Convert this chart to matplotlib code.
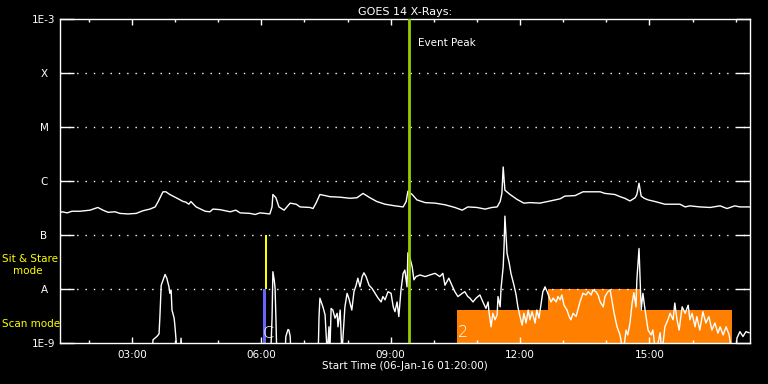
import numpy as np
import matplotlib
matplotlib.use("Agg")
import matplotlib.pyplot as plt

# GOES 14 X-ray flux, 06-Jan-2016, time in UT hours, flux as log10(W/m^2)
long_t = [1.33, 1.38, 1.50, 1.61, 1.80, 2.03, 2.21, 2.33, 2.45, 2.61, 2.72, 2.91,
          3.10, 3.26, 3.42, 3.54, 3.61, 3.72, 3.79, 3.88, 4.05, 4.19, 4.25, 4.32,
          4.37, 4.44, 4.49, 4.70, 4.81, 4.88, 5.04, 5.16, 5.28, 5.41, 5.51, 5.74,
          5.86, 5.97, 6.20, 6.25, 6.27, 6.34, 6.41, 6.53, 6.67, 6.81, 6.90, 7.13,
          7.20, 7.27, 7.36, 7.48, 7.59, 7.83, 8.06, 8.22, 8.36, 8.52, 8.68, 8.87,
          9.10, 9.29, 9.36, 9.40, 9.50, 9.61, 9.80, 10.03, 10.26, 10.49, 10.66,
          10.79, 11.00, 11.19, 11.35, 11.47, 11.54, 11.58, 11.61, 11.65, 11.77,
          11.93, 12.09, 12.23, 12.46, 12.70, 12.93, 13.04, 13.28, 13.46, 13.86,
          13.97, 14.20, 14.32, 14.43, 14.55, 14.67, 14.71, 14.76, 14.81, 14.88,
          14.97, 15.13, 15.36, 15.71, 15.83, 15.94, 16.17, 16.41, 16.64, 16.80,
          16.98, 17.10, 17.33]
long_log = [-6.59, -6.57, -6.59, -6.56, -6.56, -6.54, -6.49, -6.54, -6.58, -6.57,
            -6.60, -6.61, -6.60, -6.55, -6.52, -6.48, -6.38, -6.20, -6.20, -6.25,
            -6.32, -6.38, -6.39, -6.43, -6.38, -6.44, -6.48, -6.56, -6.57, -6.52,
            -6.53, -6.55, -6.57, -6.54, -6.59, -6.60, -6.62, -6.59, -6.61, -6.48,
            -6.25, -6.31, -6.48, -6.54, -6.41, -6.43, -6.48, -6.49, -6.51, -6.41,
            -6.25, -6.27, -6.29, -6.30, -6.32, -6.31, -6.23, -6.31, -6.38, -6.43,
            -6.46, -6.48, -6.38, -6.19, -6.25, -6.35, -6.40, -6.41, -6.44, -6.49,
            -6.54, -6.48, -6.49, -6.52, -6.49, -6.48, -6.38, -6.23, -5.74, -6.17,
            -6.25, -6.34, -6.41, -6.40, -6.41, -6.37, -6.33, -6.28, -6.27, -6.20,
            -6.20, -6.23, -6.25, -6.29, -6.32, -6.37, -6.31, -6.25, -6.04, -6.28,
            -6.32, -6.35, -6.38, -6.43, -6.43, -6.48, -6.46, -6.48, -6.49, -6.46,
            -6.51, -6.46, -6.48, -6.48]

# -9.2 marks values below the plotted range
short_t = [1.33, 3.47, 3.49, 3.58, 3.63, 3.65, 3.68, 3.75, 3.77, 3.81, 3.86, 3.88,
           3.91, 3.93, 3.98, 4.00, 4.02, 4.05, 4.12, 4.14, 4.16, 6.22, 6.25, 6.27,
           6.30, 6.32, 6.34, 6.36, 6.55, 6.57, 6.62, 6.64, 6.67, 6.69, 7.32, 7.34,
           7.36, 7.39, 7.43, 7.48, 7.53, 7.57, 7.59, 7.62, 7.66, 7.71, 7.76, 7.78,
           7.83, 7.87, 7.94, 7.99, 8.03, 8.10, 8.15, 8.20, 8.24, 8.29, 8.34, 8.38,
           8.43, 8.50, 8.57, 8.64, 8.71, 8.78, 8.82, 8.87, 8.94, 9.01, 9.06, 9.10,
           9.15, 9.19, 9.24, 9.29, 9.33, 9.38, 9.40, 9.45, 9.50, 9.54, 9.59, 9.68,
           9.80, 9.91, 10.03, 10.14, 10.21, 10.26, 10.35, 10.42, 10.49, 10.56,
           10.66, 10.72, 10.79, 10.84, 10.91, 10.98, 11.07, 11.14, 11.21, 11.26,
           11.28, 11.33, 11.37, 11.42, 11.47, 11.49, 11.54, 11.56, 11.61, 11.63,
           11.65, 11.70, 11.75, 11.79, 11.86, 11.91, 11.95, 12.00, 12.05, 12.09,
           12.14, 12.19, 12.23, 12.28, 12.35, 12.39, 12.44, 12.49, 12.53, 12.58,
           12.63, 12.67, 12.72, 12.77, 12.84, 12.88, 12.93, 12.97, 13.02, 13.09,
           13.14, 13.18, 13.23, 13.30, 13.35, 13.39, 13.46, 13.53, 13.58, 13.65,
           13.69, 13.76, 13.81, 13.86, 13.93, 13.97, 14.04, 14.09, 14.13, 14.18,
           14.25, 14.32, 14.39, 14.46, 14.50, 14.55, 14.60, 14.64, 14.69, 14.71,
           14.76, 14.78, 14.81, 14.85, 14.90, 14.97, 15.04, 15.08, 15.15, 15.25,
           15.29, 15.36, 15.43, 15.48, 15.55, 15.59, 15.64, 15.69, 15.76, 15.83,
           15.90, 15.94, 15.99, 16.06, 16.10, 16.17, 16.24, 16.31, 16.38, 16.45,
           16.52, 16.59, 16.64, 16.71, 16.78, 16.85, 16.92, 17.01, 17.03, 17.10,
           17.17, 17.24, 17.31]
short_log = [-9.2, -9.2, -8.94, -8.88, -8.83, -8.51, -7.93, -7.77, -7.73, -7.80,
             -7.96, -8.08, -8.02, -8.39, -8.54, -8.70, -8.91, -9.2, -9.2, -8.91,
             -9.2, -9.2, -8.54, -7.68, -7.83, -7.98, -8.54, -9.2, -9.2, -8.88,
             -8.75, -8.76, -8.87, -9.2, -9.2, -8.51, -8.17, -8.24, -8.33, -8.48,
             -9.2, -8.70, -9.2, -8.36, -8.39, -8.54, -8.45, -8.70, -8.39, -9.2,
             -8.33, -8.08, -8.17, -8.39, -8.05, -7.93, -7.80, -7.96, -7.77, -7.70,
             -7.77, -7.93, -7.99, -8.08, -8.17, -8.24, -8.14, -8.20, -8.05, -8.08,
             -8.33, -8.42, -8.24, -8.51, -8.02, -7.71, -7.65, -7.96, -7.33, -7.43,
             -7.59, -7.83, -7.77, -7.74, -7.77, -7.74, -7.71, -7.77, -7.71, -7.93,
             -7.80, -7.93, -8.05, -8.14, -8.08, -8.05, -8.14, -8.17, -8.24, -8.17,
             -8.11, -8.24, -8.36, -8.24, -8.42, -8.70, -8.45, -8.57, -8.48, -8.14,
             -8.33, -7.99, -7.59, -7.22, -6.65, -7.34, -7.52, -7.71, -7.93, -8.11,
             -8.33, -8.51, -8.67, -8.45, -8.63, -8.39, -8.57, -8.42, -8.63, -8.39,
             -8.54, -8.26, -8.05, -7.96, -8.05, -8.14, -8.24, -8.17, -8.24, -8.14,
             -8.20, -8.11, -8.30, -8.39, -8.51, -8.57, -8.45, -8.51, -8.36, -8.24,
             -8.08, -8.11, -8.05, -8.11, -8.02, -8.05, -8.11, -8.24, -8.33, -8.14,
             -8.05, -8.02, -8.20, -8.44, -8.70, -8.85, -9.2, -8.76, -8.85, -8.63,
             -8.26, -8.07, -8.33, -7.83, -7.25, -7.71, -8.39, -8.08, -8.39, -8.76,
             -8.85, -8.76, -9.2, -8.81, -9.2, -8.70, -8.57, -8.45, -8.57, -8.26,
             -8.57, -8.76, -8.33, -8.45, -8.30, -8.57, -8.45, -8.70, -8.51, -8.76,
             -8.42, -8.63, -8.51, -8.76, -8.63, -8.82, -8.70, -8.85, -8.70, -8.85,
             -9.2, -9.2, -8.91, -8.79, -8.88, -8.79, -8.81]

# observation windows: start hour, end hour, top log level
scan_start = [10.54, 12.65]
scan_end = [16.92, 14.78]
scan_top = [-8.39, -8.0]
stare_start, stare_end = 6.09, 6.14
blue_start, blue_end = 6.03, 6.12
event_peak = 9.43

y_levels = [1e-9, 1e-8, 1e-7, 1e-6, 1e-5, 1e-4, 1e-3]
y_labels = ["1E-9", "A", "B", "C", "M", "X", "1E-3"]
x_major = [3, 6, 9, 12, 15]
x_major_labels = ["03:00", "06:00", "09:00", "12:00", "15:00"]
x_minor = list(range(2, 18))

t0, t1 = 1.3333, 17.3333

fig = plt.figure(figsize=(7.68, 3.84), dpi=100, facecolor="black")
ax = fig.add_axes([60 / 768, 1 - 343 / 384, 690 / 768, 324 / 384])
ax.set_facecolor("black")
ax.set_yscale("log")
ax.set_xlim(t0, t1)
ax.set_ylim(1e-9, 1e-3)

for s, e, top in zip(scan_start, scan_end, scan_top):
    ax.fill_between([s, e], 1e-9, 10 ** top, color="#ff8000", lw=0, zorder=1)
ax.fill_between([blue_start, blue_end], 1e-9, 1e-8, color="#6666ff", lw=0, zorder=1)
ax.fill_between([stare_start, stare_end], 1e-8, 1e-7, color="#ffff00", lw=0, zorder=1)

ax.plot(long_t, 10 ** np.array(long_log), color="white", lw=1, zorder=3)
ax.plot(short_t, 10 ** np.array(short_log), color="white", lw=1, zorder=3)

ax.axvline(event_peak, color="#99cc00", lw=2, zorder=4)
ax.text(event_peak + 0.2, 10 ** -3.45, "Event Peak", color="white", fontsize=7.5,
        va="center", ha="left")

# observation numbers
ax.text(6.04, 10 ** -8.83, "C", color="white", fontsize=11.5, ha="left", va="center",
        fontweight="light", zorder=5)
ax.text(10.55, 10 ** -8.80, "2", color="white", fontsize=11.5, ha="left", va="center",
        fontweight="light", zorder=5)

# dotted class-level grid
for lev in y_levels[1:-1]:
    ax.axhline(lev, color="white", lw=1, ls=(0, (1, 5)), zorder=2)

ax.set_yticks(y_levels)
ax.set_yticklabels(y_labels)
ax.yaxis.set_minor_locator(matplotlib.ticker.NullLocator())
ax.tick_params(axis="y", which="major", direction="in", length=10, width=1,
               color="white", labelcolor="white", labelsize=7.5, pad=11.5,
               left=True, right=True)
for lab in ax.get_yticklabels():
    lab.set_horizontalalignment("center")

ax.set_xticks(x_major)
ax.set_xticklabels(x_major_labels)
ax.set_xticks(x_minor, minor=True)
ax.tick_params(axis="x", which="major", direction="in", length=4.5, width=1,
               color="white", labelcolor="white", labelsize=7.5, pad=5,
               top=True, bottom=True)
ax.tick_params(axis="x", which="minor", direction="in", length=2.5, width=1,
               color="white", top=True, bottom=True)

for sp in ax.spines.values():
    sp.set_color("white")
    sp.set_linewidth(1)

ax.set_title("GOES 14 X-Rays:", color="white", fontsize=8, pad=3)
ax.set_xlabel("Start Time (06-Jan-16 01:20:00)", color="white", fontsize=7.5, labelpad=1)

fig.text(2 / 768, 1 - 259 / 384, "Sit & Stare", color="#ffff00", fontsize=7.5,
         ha="left", va="center")
fig.text(13 / 768, 1 - 271 / 384, "mode", color="#ffff00", fontsize=7.5,
         ha="left", va="center")
fig.text(2 / 768, 1 - 324 / 384, "Scan mode", color="#ffff00", fontsize=7.5,
         ha="left", va="center")

fig.savefig("out.png", dpi=100, facecolor="black")
